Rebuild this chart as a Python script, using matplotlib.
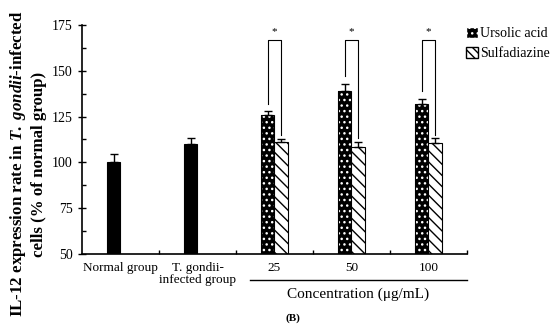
import numpy as np
import matplotlib
matplotlib.use("Agg")
import matplotlib.pyplot as plt
from matplotlib.patches import Patch
from matplotlib.transforms import blended_transform_factory

plt.rcParams['font.family'] = ['Liberation Serif', 'DejaVu Serif']
plt.rcParams['mathtext.fontset'] = 'custom'
plt.rcParams['mathtext.it'] = 'Liberation Serif:italic:bold'
plt.rcParams['mathtext.rm'] = 'Liberation Serif:bold'
plt.rcParams['hatch.linewidth'] = 1.0

# data
groups = ['Normal group', 'T. gondii-\ninfected group', '25', '50', '100']
control_vals = [100, 110]
control_err = [4.5, 3]
ursolic = [126, 139, 132]
ursolic_err = [1.8, 4, 2.7]
sulfa = [111, 108.5, 110.5]
sulfa_err = [1.8, 2.5, 2.5]

fig = plt.figure(figsize=(5.5, 3.28), dpi=100)
ax = fig.add_axes([0.149, 0.226, 0.70, 0.698])

w = 0.18
x = np.arange(len(groups))
xc = x[:2]
xt = x[2:]

ekw = dict(ecolor='black', elinewidth=1, capsize=3, capthick=1)

# control groups: solid black
ax.bar(xc - w / 2, control_vals, w, color='black', edgecolor='black', linewidth=0.8)
ax.errorbar(xc - w / 2, control_vals, yerr=[[0, 0], control_err], fmt='none', **ekw)

# ursolic acid: black with white dots
ax.bar(xt - w / 2, ursolic, w, color='black', edgecolor='white', hatch='...', linewidth=0)
ax.bar(xt - w / 2, ursolic, w, fill=False, edgecolor='black', linewidth=0.8)
ax.errorbar(xt - w / 2, ursolic, yerr=[[0] * 3, ursolic_err], fmt='none', **ekw)

# sulfadiazine: diagonal hatch
ax.bar(xt + w / 2, sulfa, w, color='white', edgecolor='black', hatch='\\\\\\', linewidth=0.8)
ax.errorbar(xt + w / 2, sulfa, yerr=[[0] * 3, sulfa_err], fmt='none', **ekw)

# significance brackets
top = 167
for xi, u, ue, s, se in zip(xt, ursolic, ursolic_err, sulfa, sulfa_err):
    xl = xi - w / 2
    xr = xi + w / 2
    ax.plot([xl, xl, xr, xr], [u + ue + 4, top, top, s + se + 2], color='black', lw=0.8)
    ax.text(xi, top + 2, '*', ha='center', va='bottom', fontsize=8)

ax.set_ylim(50, 175)
ax.set_xlim(-0.5, 4.5)
ax.set_yticks(np.arange(50, 176, 25))
ax.set_yticks(np.arange(62.5, 175, 25), minor=True)
ax.tick_params(axis='y', which='major', direction='inout', length=6, width=1, labelsize=10)
ax.tick_params(axis='y', which='minor', direction='in', length=3, width=1)

ax.set_xticks(x)
ax.set_xticklabels(groups, fontsize=9.5, linespacing=1.0)
ax.set_xticks(np.arange(0.5, 4.6, 1), minor=True)
ax.tick_params(axis='x', which='major', length=0, pad=6)
ax.tick_params(axis='x', which='minor', direction='in', length=3, width=1)

for side in ['top', 'right']:
    ax.spines[side].set_visible(False)
for side in ['left', 'bottom']:
    ax.spines[side].set_linewidth(1.2)

# concentration line and label
tr = blended_transform_factory(ax.transData, ax.transAxes)
ax.plot([1.68, 4.5], [-0.115, -0.115], color='black', lw=1, transform=tr, clip_on=False)
ax.text(3.08, -0.175, 'Concentration (\u03bcg/mL)', transform=tr, ha='center', va='center', fontsize=11)

fig.text(0.533, 0.03, '(B)', ha='center', va='center', fontsize=8, fontweight='bold')

fig.text(0.05, 0.5, 'IL-12 expression rate in $\\it{T.\\ gondii}$-infected\ncells (% of normal group)',
         rotation=90, ha='center', va='center', fontsize=12.2, fontweight='bold', linespacing=1.3)

handles = [Patch(facecolor='black', edgecolor='white', hatch='...'),
           Patch(facecolor='white', edgecolor='black', hatch='\\\\\\\\')]
fig.legend(handles, ['Ursolic acid', 'Sulfadiazine'], loc='upper left', bbox_to_anchor=(0.838, 0.935),
           frameon=False, fontsize=10, handlelength=0.8, handleheight=0.8, handletextpad=0.2,
           labelspacing=0.5, borderaxespad=0)

fig.savefig('out.png', dpi=100)
